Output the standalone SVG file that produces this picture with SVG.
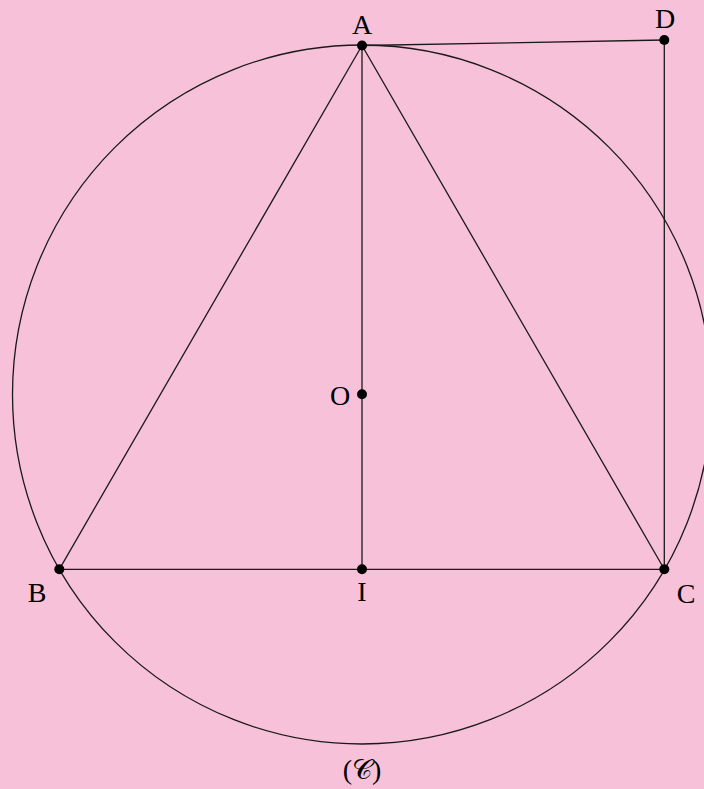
<svg xmlns="http://www.w3.org/2000/svg" width="704" height="789" viewBox="0 0 704 789">
<style>
.ln{stroke:#1a1a1a;stroke-width:1.3;fill:none}
.dot{fill:#000}
.lb{font-family:"Liberation Serif","Times New Roman",serif;font-size:28px;fill:#000}
</style>
<rect width="704" height="789" fill="#f7c1d9"/>
<g id="connectors">
<circle class="ln" cx="362" cy="394.5" r="349.5"/>
<path class="ln" d="M362,45.5 L59.3,569.3 L664.3,569.3 Z"/>
<line class="ln" x1="362" y1="45.5" x2="362" y2="569.3"/>
<line class="ln" x1="362" y1="45.5" x2="664.3" y2="40"/>
<line class="ln" x1="664.3" y1="40" x2="664.3" y2="569.3"/>
</g>
<g id="A"><circle class="dot" cx="362" cy="45.5" r="5"/><text class="lb" x="362" y="34" text-anchor="middle">A</text></g>
<g id="D"><circle class="dot" cx="664.3" cy="40" r="5"/><text class="lb" x="665" y="28" text-anchor="middle">D</text></g>
<g id="O"><circle class="dot" cx="362" cy="394.3" r="5"/><text class="lb" x="340" y="405" text-anchor="middle">O</text></g>
<g id="B"><circle class="dot" cx="59.3" cy="569.3" r="5"/><text class="lb" x="37" y="602" text-anchor="middle">B</text></g>
<g id="I"><circle class="dot" cx="362" cy="569.3" r="5"/><text class="lb" x="362" y="601" text-anchor="middle">I</text></g>
<g id="C"><circle class="dot" cx="664.3" cy="569.3" r="5"/><text class="lb" x="686" y="603" text-anchor="middle">C</text></g>
<g id="circle-label"><text class="lb" x="362" y="779" text-anchor="middle">(𝒞)</text></g>
</svg>
